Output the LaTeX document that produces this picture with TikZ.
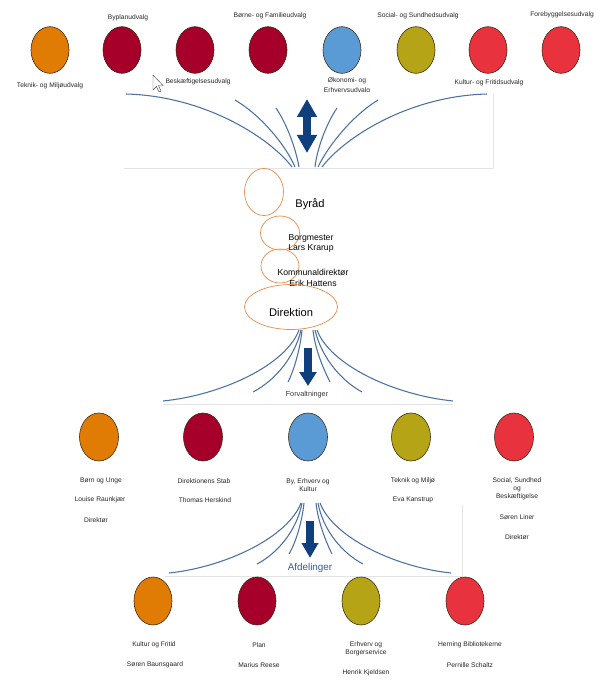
\documentclass[tikz,border=0pt]{standalone}
\usepackage{fontspec}
\setmainfont{Liberation Sans}
\usepackage{tikz}
\usetikzlibrary{arrows.meta,shapes.geometric,positioning}
\definecolor{orangefill}{HTML}{E07B04}
\definecolor{crimson}{HTML}{A6002A}
\definecolor{skyblue}{HTML}{5B9BD5}
\definecolor{olive}{HTML}{B5A516}
\definecolor{rosered}{HTML}{E8333F}
\definecolor{edgedark}{HTML}{3B2A14}
\definecolor{fanblue}{HTML}{4C70A3}
\definecolor{arrowblue}{HTML}{0F3F7D}
\definecolor{ringorange}{HTML}{E98B4B}
\definecolor{framegray}{HTML}{E4E4E4}
\definecolor{textgray}{HTML}{333333}
\definecolor{afdblue}{HTML}{2D5B9A}

\begin{document}
\begin{tikzpicture}[x=0.03cm,y=-0.03cm,
  unit/.style={ellipse,draw=edgedark,line width=0.5pt,minimum width=1.14cm,minimum height=1.4cm,inner sep=0pt},
  ring/.style={ellipse,draw=ringorange,line width=0.6pt,inner sep=0pt},
  lbl/.style={font=\fontsize{5.7}{6.8}\selectfont,text=black!85,inner sep=0pt,align=center},
  midtext/.style={font=\fontsize{7.4}{9}\selectfont,inner sep=0pt,align=center},
  bigtext/.style={font=\fontsize{9.5}{11}\selectfont,inner sep=0pt},
  fan/.style={fanblue,line width=0.9pt},
  frame/.style={framegray,line width=0.5pt},
  bigarrow/.style={arrowblue,line width=0.22cm}]
  \useasboundingbox (0,0) rectangle (613,684);
  \fill[white] (0,0) rectangle (613,684);

  \node[unit,fill=orangefill] (teknikU) at (50,50) {};
  \node[unit,fill=crimson] (byplanU) at (122,50) {};
  \node[unit,fill=crimson] (beskU) at (195,50) {};
  \node[unit,fill=crimson] (boerneU) at (268,50) {};
  \node[unit,fill=skyblue] (oekU) at (342,50) {};
  \node[unit,fill=olive] (socialU) at (416,50) {};
  \node[unit,fill=rosered] (kulturU) at (488,50) {};
  \node[unit,fill=rosered] (foreU) at (561,50) {};
  \node[lbl] (teknikL) at (50,86) {Teknik- og Miljøudvalg};
  \node[lbl] (byplanL) at (128,18) {Byplanudvalg};
  \node[lbl] (beskL) at (198,82) {Beskæftigelsesudvalg};
  \node[lbl] (boerneL) at (270,16) {Børne- og Familieudvalg};
  \node[lbl] (oekL) at (347,86) {Økonomi- og\\[1.8pt]Erhvervsudvalg};
  \node[lbl] (socialL) at (418,16) {Social- og Sundhedsudvalg};
  \node[lbl] (kulturL) at (489,83) {Kultur- og Fritidsudvalg};
  \node[lbl] (foreL) at (562,15) {Forebyggelsesudvalg};
  \draw[fill=white,draw=black!70,line width=0.4pt] (153,75) -- (153,90) -- (156.5,86.5) -- (159,92) -- (161,91) -- (158.5,85.5) -- (163,85.5) -- cycle;

  \fill[white] (124,92.5) rectangle (493,168);
  \draw[fan] (126,94) .. controls (205,96) and (270,138) .. (292,167);
  \draw[fan] (235,100) .. controls (262,116) and (286,146) .. (295,167);
  \draw[fan] (276,108) .. controls (288,126) and (296,150) .. (299,167);
  \draw[fan] (337,108) .. controls (325,126) and (317,150) .. (315,167);
  \draw[fan] (378,100) .. controls (352,116) and (328,146) .. (318,167);
  \draw[fan] (487,94) .. controls (408,96) and (344,138) .. (322,167);
  \draw[frame] (124,168) -- (493,168) -- (493,94);
  \draw[bigarrow,{Triangle[width=0.57cm,length=0.54cm]}-{Triangle[width=0.57cm,length=0.54cm]}] (307,99) -- (307,153);

  \node[ring,minimum width=1.17cm,minimum height=1.41cm] (byraadR) at (264,192) {};
  \node[bigtext] (byraad) at (310,204) {Byråd};
  \node[ring,minimum width=1.17cm,minimum height=1.02cm] (borgR) at (280,233) {};
  \node[midtext] (borg) at (311,243.5) {Borgmester\\Lars Krarup};
  \node[ring,minimum width=1.14cm,minimum height=1.02cm] (komR) at (280,266) {};
  \node[midtext] (kom) at (313,278) {Kommunaldirektør\\Erik Hattens};
  \node[ring,minimum width=2.79cm,minimum height=1.35cm] (direkR) at (291,307) {};
  \node[bigtext] (direk) at (291,313) {Direktion};

  \draw[fan] (299,330) .. controls (286,365) and (222,395) .. (163,401);
  \draw[fan] (301,330) .. controls (295,356) and (276,380) .. (253,392);
  \draw[fan] (302,330) .. controls (300,350) and (294,370) .. (288,382);
  \draw[fan] (313,330) .. controls (315,350) and (324,370) .. (330,382);
  \draw[fan] (315,330) .. controls (321,356) and (340,380) .. (362,392);
  \draw[fan] (317,330) .. controls (330,365) and (394,395) .. (453,401);
  \draw[frame] (163,404) -- (453,404);
  \draw[bigarrow,-{Triangle[width=0.5cm,length=0.42cm]}] (308,348) -- (308,386);
  \node[font=\fontsize{6.2}{7}\selectfont,text=textgray,inner sep=0pt] (forv) at (307,395) {Forvaltninger};

  \node[unit,fill=orangefill,minimum width=1.17cm,minimum height=1.44cm] (bornM) at (99,437) {};
  \node[unit,fill=crimson,minimum width=1.17cm,minimum height=1.44cm] (stabM) at (203,437) {};
  \node[unit,fill=skyblue,minimum width=1.17cm,minimum height=1.44cm] (byM) at (308,437) {};
  \node[unit,fill=olive,minimum width=1.17cm,minimum height=1.44cm] (teknikM) at (411,437) {};
  \node[unit,fill=rosered,minimum width=1.17cm,minimum height=1.44cm] (socialM) at (514,437) {};
  \node[lbl] (bornL) at (101,481) {Børn og Unge};
  \node[lbl] (bornN) at (100,500) {Louise Raunkjær};
  \node[lbl] (bornD) at (96,520) {Direktør};
  \node[lbl] (stabL) at (204,481) {Direktionens Stab};
  \node[lbl] (stabN) at (205,500) {Thomas Herskind};
  \node[lbl] (byL) at (308,485) {By, Erhverv og\\Kultur};
  \node[lbl] (teknikML) at (413,481) {Teknik og Miljø};
  \node[lbl] (teknikMN) at (413,500) {Eva Kanstrup};
  \node[lbl] (socialML) at (517,489) {Social, Sundhed\\og\\Beskæftigelse};
  \node[lbl] (socialMN) at (517,517) {Søren Liner};
  \node[lbl] (socialMD) at (517,537) {Direktør};

  \draw[fan] (301,503) .. controls (288,537) and (226,567) .. (169,573);
  \draw[fan] (302,503) .. controls (297,530) and (278,553) .. (257,564);
  \draw[fan] (304,503) .. controls (302,522) and (296,542) .. (289,554);
  \draw[fan] (316,503) .. controls (318,522) and (326,542) .. (332,554);
  \draw[fan] (318,503) .. controls (323,530) and (342,553) .. (363,564);
  \draw[fan] (320,503) .. controls (333,537) and (394,567) .. (451,573);
  \draw[frame] (165,576) -- (462,576) -- (462,505);
  \draw[bigarrow,-{Triangle[width=0.48cm,length=0.45cm]}] (310,521) -- (310,558);
  \node[font=\fontsize{8.4}{10}\selectfont,text=afdblue,inner sep=0pt] (afd) at (310,568) {Afdelinger};

  \node[unit,fill=orangefill,minimum height=1.44cm] (kulturB) at (153,601) {};
  \node[unit,fill=crimson,minimum height=1.44cm] (planB) at (257,601) {};
  \node[unit,fill=olive,minimum height=1.44cm] (erhvB) at (361,601) {};
  \node[unit,fill=rosered,minimum height=1.44cm] (biblB) at (465,601) {};
  \node[lbl] (kulturBL) at (154,645) {Kultur og Fritid};
  \node[lbl] (kulturBN) at (155,665) {Søren Baunsgaard};
  \node[lbl] (planBL) at (259,645) {Plan};
  \node[lbl] (planBN) at (259,665) {Marius Reese};
  \node[lbl] (erhvBL) at (366,649) {Erhverv og\\Borgerservice};
  \node[lbl] (erhvBN) at (366,673) {Henrik Kjeldsen};
  \node[lbl] (biblBL) at (470,645) {Herning Bibliotekerne};
  \node[lbl] (biblBN) at (470,665) {Pernille Schaltz};
\end{tikzpicture}
\end{document}
